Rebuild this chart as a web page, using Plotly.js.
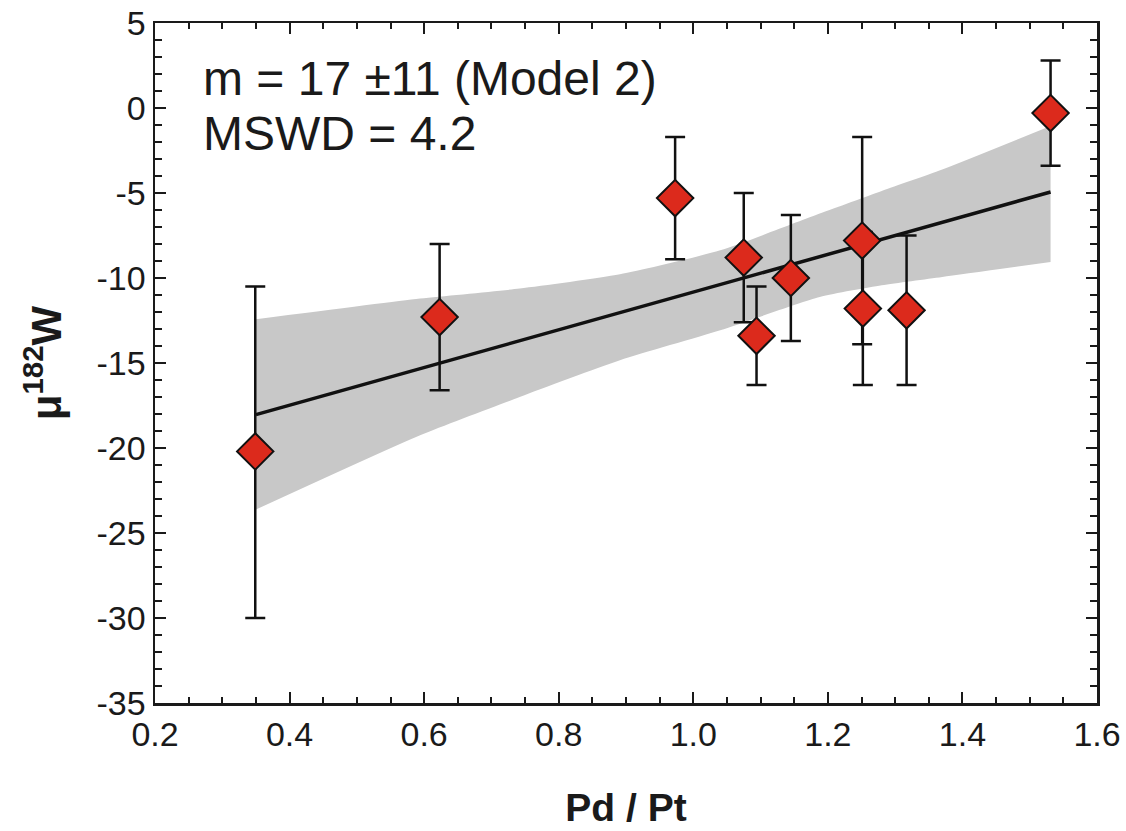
<!DOCTYPE html>
<html>
<head>
<meta charset="utf-8">
<script src="https://cdn.plot.ly/plotly-3.0.1.min.js"></script>
<style>html,body{margin:0;padding:0;background:#fff;}#chart{width:1126px;height:831px;}</style>
</head>
<body>
<div id="chart"></div>
<script>
// Data points (Pd/Pt vs mu182W) with error bars
const pdPt   = [0.349, 0.623, 0.973, 1.075, 1.094, 1.145, 1.251, 1.252, 1.317, 1.531];
const mu182W = [-20.2, -12.3, -5.3, -8.8, -13.4, -10.0, -7.8, -11.8, -11.9, -0.3];
const errPlus  = [9.7, 4.3, 3.6, 3.8, 2.9, 3.7, 6.1, 4.5, 4.4, 3.1];
const errMinus = [9.8, 4.3, 3.6, 3.8, 2.9, 3.7, 6.1, 4.5, 4.4, 3.1];

// Regression line end points
const fitX = [0.35, 1.531];
const fitY = [-18.04, -4.94];

// Confidence envelope
const bandX     = [0.35, 0.594, 0.742, 0.891, 1.04, 1.188, 1.28, 1.37, 1.531];
const bandUpper = [-12.43, -11.21, -10.62, -9.78, -8.37, -6.21, -4.88, -3.62, -1.06];
const bandLower = [-23.62, -19.25, -17.0, -14.84, -13.08, -11.12, -10.43, -9.94, -9.06];

const annotationLines = ["m = 17 ±11 (Model 2)", "MSWD = 4.2"];

const xTickVals = [0.2, 0.4, 0.6, 0.8, 1.0, 1.2, 1.4, 1.6];
const xTickText = ["0.2", "0.4", "0.6", "0.8", "1.0", "1.2", "1.4", "1.6"];
const yTickVals = [5, 0, -5, -10, -15, -20, -25, -30, -35];
const yTickText = ["5", "0", "-5", "-10", "-15", "-20", "-25", "-30", "-35"];

const FONT = "Liberation Sans, Arial, Helvetica, sans-serif";
const INK = "#1a1a1a";

const bandTop = {
  x: bandX, y: bandUpper, type: "scatter", mode: "lines",
  line: {shape: "spline", smoothing: 0.6, width: 0, color: "rgba(0,0,0,0)"},
  hoverinfo: "skip", showlegend: false
};
const bandBottom = {
  x: bandX, y: bandLower, type: "scatter", mode: "lines", fill: "tonexty",
  fillcolor: "#c8c8c8",
  line: {shape: "spline", smoothing: 0.6, width: 0, color: "rgba(0,0,0,0)"},
  hoverinfo: "skip", showlegend: false
};
const fit = {
  x: fitX, y: fitY, type: "scatter", mode: "lines",
  line: {color: "#111", width: 3.5}, showlegend: false
};
const pts = {
  x: pdPt, y: mu182W, type: "scatter", mode: "markers",
  marker: {symbol: "diamond", size: 28, color: "#dc2a1c", line: {color: "#111", width: 2}},
  error_y: {type: "data", symmetric: false, array: errPlus, arrayminus: errMinus,
            color: "#111", thickness: 2.5, width: 10},
  showlegend: false
};

const axisCommon = {
  showgrid: false, zeroline: false, showline: true, linecolor: INK, linewidth: 2.5,
  mirror: "ticks", ticks: "inside", tickcolor: INK, tickwidth: 2,
  tickfont: {family: FONT, size: 34, color: INK}
};

const layout = {
  width: 1126, height: 831,
  margin: {l: 155, r: 29, t: 23, b: 128},
  paper_bgcolor: "#ffffff", plot_bgcolor: "#ffffff",
  xaxis: Object.assign({}, axisCommon, {
    range: [0.2, 1.6], tickvals: xTickVals, ticktext: xTickText, ticklen: 11,
    minor: {dtick: 0.05, tick0: 0.2, ticks: "inside", ticklen: 6, tickcolor: INK, tickwidth: 2},
    title: {text: "<b>Pd / Pt</b>", font: {family: FONT, size: 39, color: INK}, standoff: 42}
  }),
  yaxis: Object.assign({}, axisCommon, {
    range: [-35, 5], tickvals: yTickVals, ticktext: yTickText, ticklen: 11,
    minor: {dtick: 1, tick0: 0, ticks: "inside", ticklen: 7, tickcolor: INK, tickwidth: 2},
    title: {text: "<b>μ<sup>182</sup>W</b>", font: {family: FONT, size: 42, color: INK}, standoff: 22}
  }),
  annotations: [
    {xref: "paper", yref: "paper", x: 0.0488, y: 0.9187, xanchor: "left", yanchor: "middle",
     text: annotationLines[0], showarrow: false, font: {family: FONT, size: 48, color: INK}},
    {xref: "paper", yref: "paper", x: 0.0488, y: 0.8378, xanchor: "left", yanchor: "middle",
     text: annotationLines[1], showarrow: false, font: {family: FONT, size: 48, color: INK}}
  ]
};

Plotly.newPlot("chart", [bandTop, bandBottom, fit, pts], layout, {displayModeBar: false, staticPlot: true});
</script>
</body>
</html>
